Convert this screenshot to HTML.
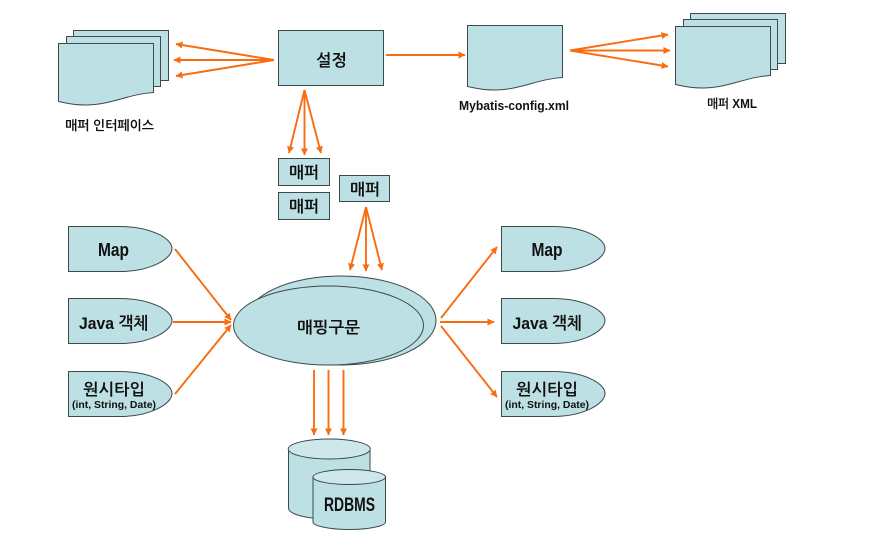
<!DOCTYPE html>
<html><head><meta charset="utf-8">
<style>
html,body{margin:0;padding:0;background:#fff;width:896px;height:543px;overflow:hidden}
svg{display:block}
text{font-family:"Liberation Sans","NanumGothic","Noto Sans CJK KR",sans-serif;fill:#111;text-anchor:middle;font-weight:bold}
.s{fill:#bce0e3;stroke:#3c4a4c;stroke-width:1}
.t{fill:#cde8ea;stroke:#3c4a4c;stroke-width:1}
.a{stroke:#f96c10;stroke-width:1.9;fill:none;marker-end:url(#m)}
</style></head><body>
<svg width="896" height="543" viewBox="0 0 896 543" xmlns="http://www.w3.org/2000/svg">
<defs>
<marker id="m" markerUnits="userSpaceOnUse" markerWidth="8" markerHeight="8" refX="6.5" refY="3.5" orient="auto"><path d="M0 0L7 3.5L0 7Z" fill="#f96c10"/></marker>
</defs>

<!-- mapper interface stack -->
<rect class="s" x="73.500" y="30.500" width="95" height="50"/>
<rect class="s" x="66.500" y="36.500" width="94" height="50"/>
<path class="s" d="M58.500 43.500H153.500V92.500C128 94 112 105 85 105C72 105 66 103 58.500 101.500Z"/>
<text x="109.500" y="130" font-size="13" textLength="89" lengthAdjust="spacingAndGlyphs">매퍼 인터페이스</text>

<!-- settings -->
<rect class="s" x="278.500" y="30.500" width="105" height="55"/>
<text x="331.500" y="66" font-size="16.500" textLength="31" lengthAdjust="spacingAndGlyphs">설정</text>

<!-- config doc -->
<path class="s" d="M467.500 25.500H562.500V77.500C537 79 521 90 494 90C481 90 475 88 467.500 86.500Z"/>
<text x="514" y="110" font-size="13" textLength="110" lengthAdjust="spacingAndGlyphs">Mybatis-config.xml</text>

<!-- mapper xml stack -->
<rect class="s" x="690.500" y="13.500" width="95" height="50"/>
<rect class="s" x="683.500" y="19.500" width="94" height="50"/>
<path class="s" d="M675.500 26.500H770.500V75.500C745 77 729 88 702 88C689 88 683 86 675.500 84.500Z"/>
<text x="732" y="108" font-size="12.500" textLength="50" lengthAdjust="spacingAndGlyphs">매퍼 XML</text>

<!-- mapper boxes -->
<rect class="s" x="278.500" y="158.500" width="51" height="27"/>
<text x="304" y="178" font-size="16" textLength="30" lengthAdjust="spacingAndGlyphs">매퍼</text>
<rect class="s" x="278.500" y="192.500" width="51" height="27"/>
<text x="304" y="212" font-size="16" textLength="30" lengthAdjust="spacingAndGlyphs">매퍼</text>
<rect class="s" x="339.500" y="175.500" width="50" height="26"/>
<text x="365" y="195" font-size="16" textLength="30" lengthAdjust="spacingAndGlyphs">매퍼</text>

<!-- left shapes -->
<path class="s" d="M68.500 226.500H120C150 226.500 172 238 172 248.500C172 259 150 271.500 120 271.500H68.500Z"/>
<text x="113.500" y="256" font-size="18" textLength="31" lengthAdjust="spacingAndGlyphs">Map</text>
<path class="s" d="M68.500 298.500H120C150 298.500 172 310 172 320.500C172 331 150 343.500 120 343.500H68.500Z"/>
<text x="113.500" y="329" font-size="17" textLength="69" lengthAdjust="spacingAndGlyphs">Java 객체</text>
<path class="s" d="M68.500 371.500H120C150 371.500 172 383 172 393.500C172 404 150 416.500 120 416.500H68.500Z"/>
<text x="114" y="395" font-size="16" textLength="62" lengthAdjust="spacingAndGlyphs">원시타입</text>
<text x="114" y="408" font-size="10.500" textLength="84" lengthAdjust="spacingAndGlyphs">(int, String, Date)</text>

<!-- right shapes -->
<path class="s" d="M501.500 226.500H553C583 226.500 605 238 605 248.500C605 259 583 271.500 553 271.500H501.500Z"/>
<text x="547" y="256" font-size="18" textLength="31" lengthAdjust="spacingAndGlyphs">Map</text>
<path class="s" d="M501.500 298.500H553C583 298.500 605 310 605 320.500C605 331 583 343.500 553 343.500H501.500Z"/>
<text x="547" y="329" font-size="17" textLength="69" lengthAdjust="spacingAndGlyphs">Java 객체</text>
<path class="s" d="M501.500 371.500H553C583 371.500 605 383 605 393.500C605 404 583 416.500 553 416.500H501.500Z"/>
<text x="547" y="395" font-size="16" textLength="62" lengthAdjust="spacingAndGlyphs">원시타입</text>
<text x="547" y="408" font-size="10.500" textLength="84" lengthAdjust="spacingAndGlyphs">(int, String, Date)</text>

<!-- mapping ellipses -->
<ellipse class="s" cx="341" cy="320.500" rx="95" ry="44.500"/>
<ellipse class="s" cx="328.500" cy="325.500" rx="95" ry="39.500"/>
<text x="328.500" y="333" font-size="16" textLength="63" lengthAdjust="spacingAndGlyphs">매핑구문</text>

<!-- database -->
<path class="s" d="M288.500 449V508C288.500 514 306 519 329 519C352 519 370 514 370 508V449Z"/>
<ellipse class="t" cx="329.250" cy="449" rx="41" ry="10"/>
<path class="s" d="M313 477V522C313 526 330 529.500 349 529.500C369 529.500 385.500 526 385.500 522V477Z"/>
<ellipse class="t" cx="349.250" cy="477" rx="36.250" ry="7.500"/>
<text x="349.500" y="511" font-size="19" textLength="51" lengthAdjust="spacingAndGlyphs">RDBMS</text>

<!-- arrows -->
<line class="a" x1="274" y1="60" x2="176" y2="44"/>
<line class="a" x1="274" y1="60" x2="174" y2="60"/>
<line class="a" x1="274" y1="60" x2="176" y2="76"/>
<line class="a" x1="386" y1="55" x2="465" y2="55"/>
<line class="a" x1="570" y1="50.500" x2="668" y2="34.500"/>
<line class="a" x1="570" y1="50.500" x2="670" y2="50.500"/>
<line class="a" x1="570" y1="50.500" x2="668" y2="66.500"/>
<line class="a" x1="304.500" y1="90" x2="289" y2="153"/>
<line class="a" x1="304.500" y1="90" x2="304.500" y2="155"/>
<line class="a" x1="304.500" y1="90" x2="321" y2="153"/>
<line class="a" x1="366" y1="207" x2="350" y2="270"/>
<line class="a" x1="366" y1="207" x2="366" y2="271"/>
<line class="a" x1="366" y1="207" x2="382" y2="270"/>
<line class="a" x1="175" y1="249" x2="231" y2="320"/>
<line class="a" x1="173" y1="322" x2="231" y2="322"/>
<line class="a" x1="175" y1="394" x2="231" y2="325"/>
<line class="a" x1="441" y1="318" x2="497" y2="247"/>
<line class="a" x1="440" y1="322" x2="494" y2="322"/>
<line class="a" x1="441" y1="326" x2="497" y2="397"/>
<line class="a" x1="314" y1="370" x2="314" y2="435"/>
<line class="a" x1="328.500" y1="370" x2="328.500" y2="435"/>
<line class="a" x1="343.500" y1="370" x2="343.500" y2="435"/>
</svg>
</body></html>
